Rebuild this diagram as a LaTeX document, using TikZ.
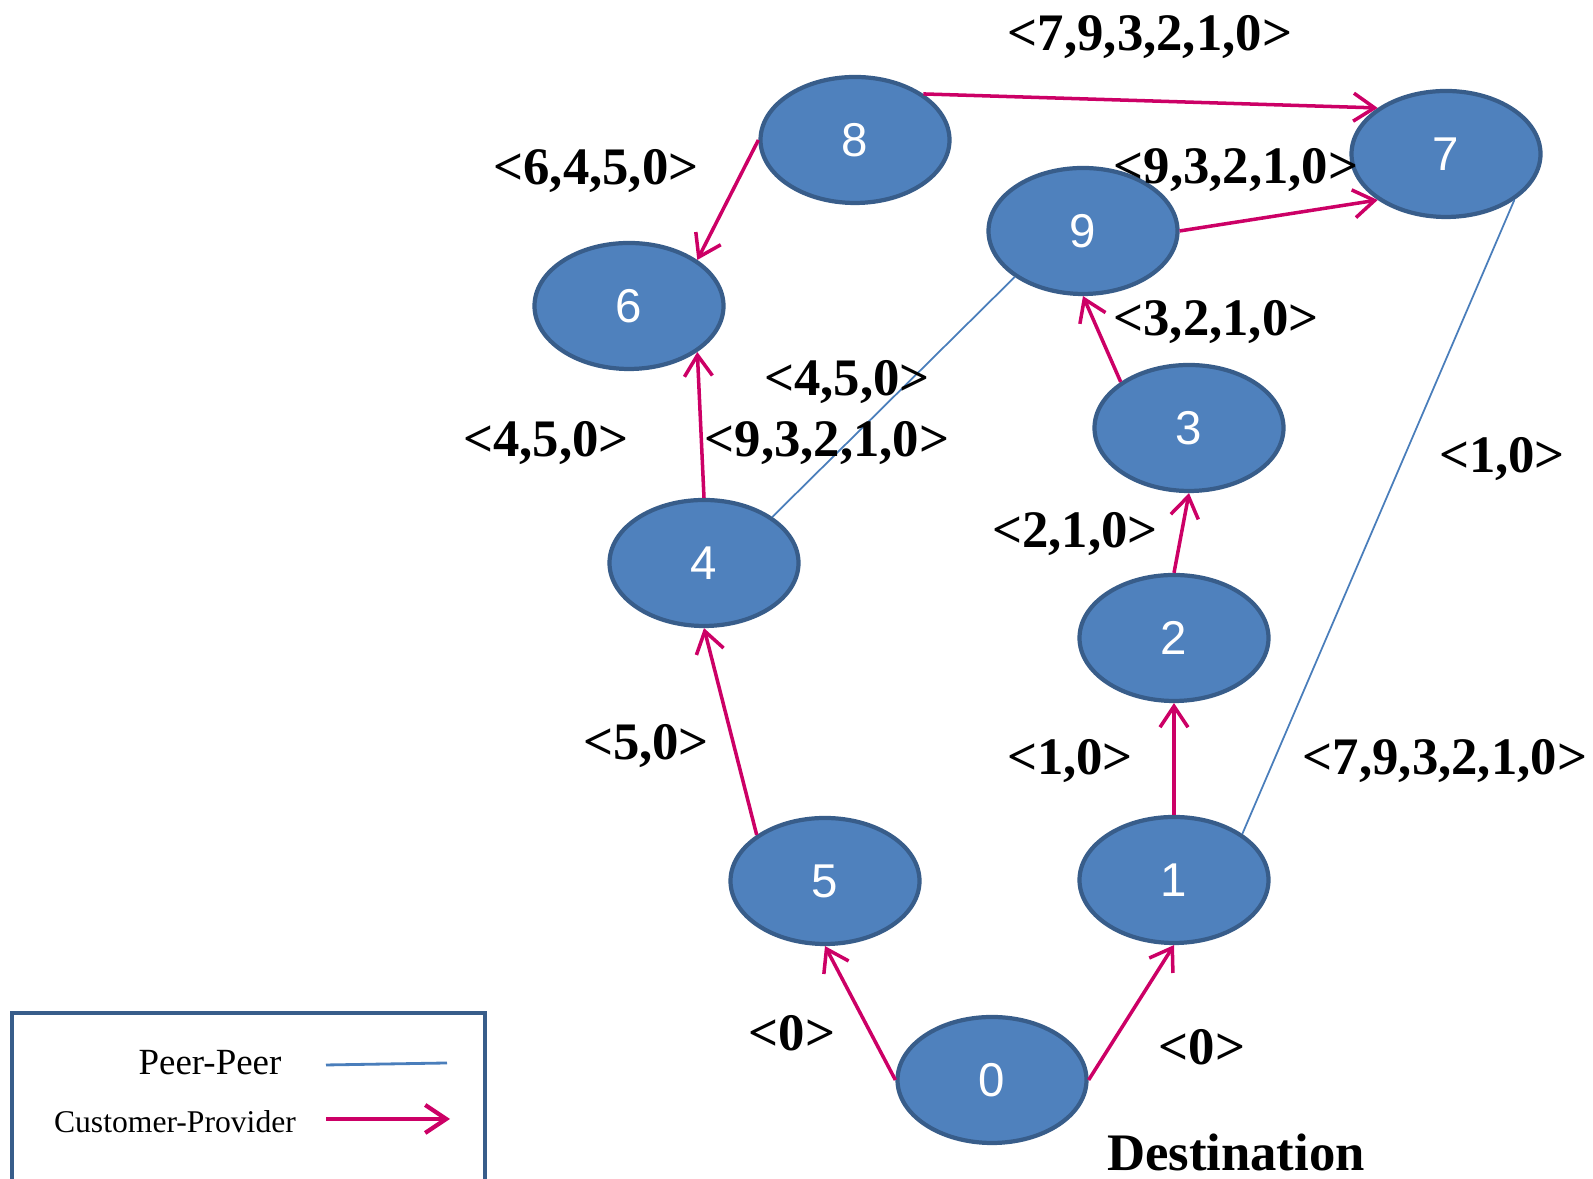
\documentclass[tikz,border=0pt]{standalone}
\usepackage{fontspec}
\setmainfont{Liberation Serif}
\newfontfamily\asfont{Liberation Sans}
\usetikzlibrary{arrows.meta, shapes.geometric}
\definecolor{asblue}{HTML}{4F81BD}
\definecolor{asrim}{HTML}{385D8A}
\definecolor{provider}{HTML}{CC0066}
\definecolor{peer}{HTML}{4A7EBB}
\tikzset{>={Straight Barb[length=2.1mm,width=2.8mm]},
    asnode/.style={ellipse, draw=asrim, fill=asblue, line width=1.2pt, minimum width=1.89cm, minimum height=1.26cm, inner sep=0pt, text=white, font=\asfont\fontsize{13.5}{15}\selectfont},
    custprov/.style={->, provider, line width=1pt},
    peerpeer/.style={peer, line width=0.5pt},
    pathlabel/.style={font=\bfseries\fontsize{15}{18}\selectfont, yshift=-0.4mm}
}

\begin{document}
\begin{tikzpicture}
    \useasboundingbox (0,0) rectangle (15.93,11.79);

    % autonomous systems
    \node[asnode] (n8) at (8.55,10.39) {8};
    \node[asnode] (n7) at (14.46,10.25) {7};
    \node[asnode] (n9) at (10.83,9.48) {9};
    \node[asnode] (n6) at (6.29,8.73) {6};
    \node[asnode] (n3) at (11.89,7.51) {3};
    \node[asnode] (n4) at (7.04,6.16) {4};
    \node[asnode] (n2) at (11.74,5.41) {2};
    \node[asnode] (n5) at (8.25,2.98) {5};
    \node[asnode] (n1) at (11.74,2.99) {1};
    \node[asnode] (n0) at (9.92,0.99) {0};

    % customer -> provider links
    \draw[custprov] (n8.north east) -- (n7.north west);
    \draw[custprov] (n8.west) -- (n6.north east);
    \draw[custprov] (n9.east) -- (n7.south west);
    \draw[custprov] (n3.north west) -- (n9.south);
    \draw[custprov] (n2.north) -- (n3.south);
    \draw[custprov] (n1.north) -- (n2.south);
    \draw[custprov] (n0.east) -- (n1.south);
    \draw[custprov] (n0.west) -- (n5.south);
    \draw[custprov] (n5.north west) -- (n4.south);
    \draw[custprov] (n4.north) -- (n6.south east);

    % peer links
    \draw[peerpeer] (n4.north east) -- (n9.south west);
    \draw[peerpeer] (n1.north east) -- (n7.south east);

    % announced paths
    \node[pathlabel] (p87) at (11.50,11.46) {<7,9,3,2,1,0>};
    \node[pathlabel] (p86) at (5.96,10.12) {<6,4,5,0>};
    \node[pathlabel] (p97) at (12.36,10.13) {<9,3,2,1,0>};
    \node[pathlabel] (p39) at (12.16,8.61) {<3,2,1,0>};
    \node[pathlabel] (p49) at (8.47,8.01) {<4,5,0>};
    \node[pathlabel] (p46) at (5.46,7.40) {<4,5,0>};
    \node[pathlabel] (p94) at (8.27,7.40) {<9,3,2,1,0>};
    \node[pathlabel] (p17) at (15.02,7.24) {<1,0>};
    \node[pathlabel] (p23) at (10.75,6.49) {<2,1,0>};
    \node[pathlabel] (p54) at (6.46,4.37) {<5,0>};
    \node[pathlabel] (p12) at (10.70,4.22) {<1,0>};
    \node[pathlabel] (p71) at (14.45,4.22) {<7,9,3,2,1,0>};
    \node[pathlabel] (p05) at (7.92,1.50) {<0>};
    \node[pathlabel] (p01) at (12.02,1.36) {<0>};
    \node[pathlabel] (dest) at (12.36,0.31) {Destination};

    % legend
    \draw[asrim, line width=1.2pt] (0.12,-0.2) -- (0.12,1.66) -- (4.85,1.66) -- (4.85,-0.2);
    \node[font=\fontsize{10.5}{12}\selectfont] (lpeer) at (2.10,1.16) {Peer-Peer};
    \node[font=\fontsize{9}{11}\selectfont] (lcust) at (1.75,0.57) {Customer-Provider};
    \coordinate (lpa) at (3.26,1.14);
    \coordinate (lpb) at (4.47,1.16);
    \coordinate (lca) at (3.26,0.60);
    \coordinate (lcb) at (4.50,0.60);
    \draw[peerpeer, line width=0.8pt] (lpa) -- (lpb);
    \draw[custprov, line width=1.2pt] (lca) -- (lcb);
\end{tikzpicture}
\end{document}
